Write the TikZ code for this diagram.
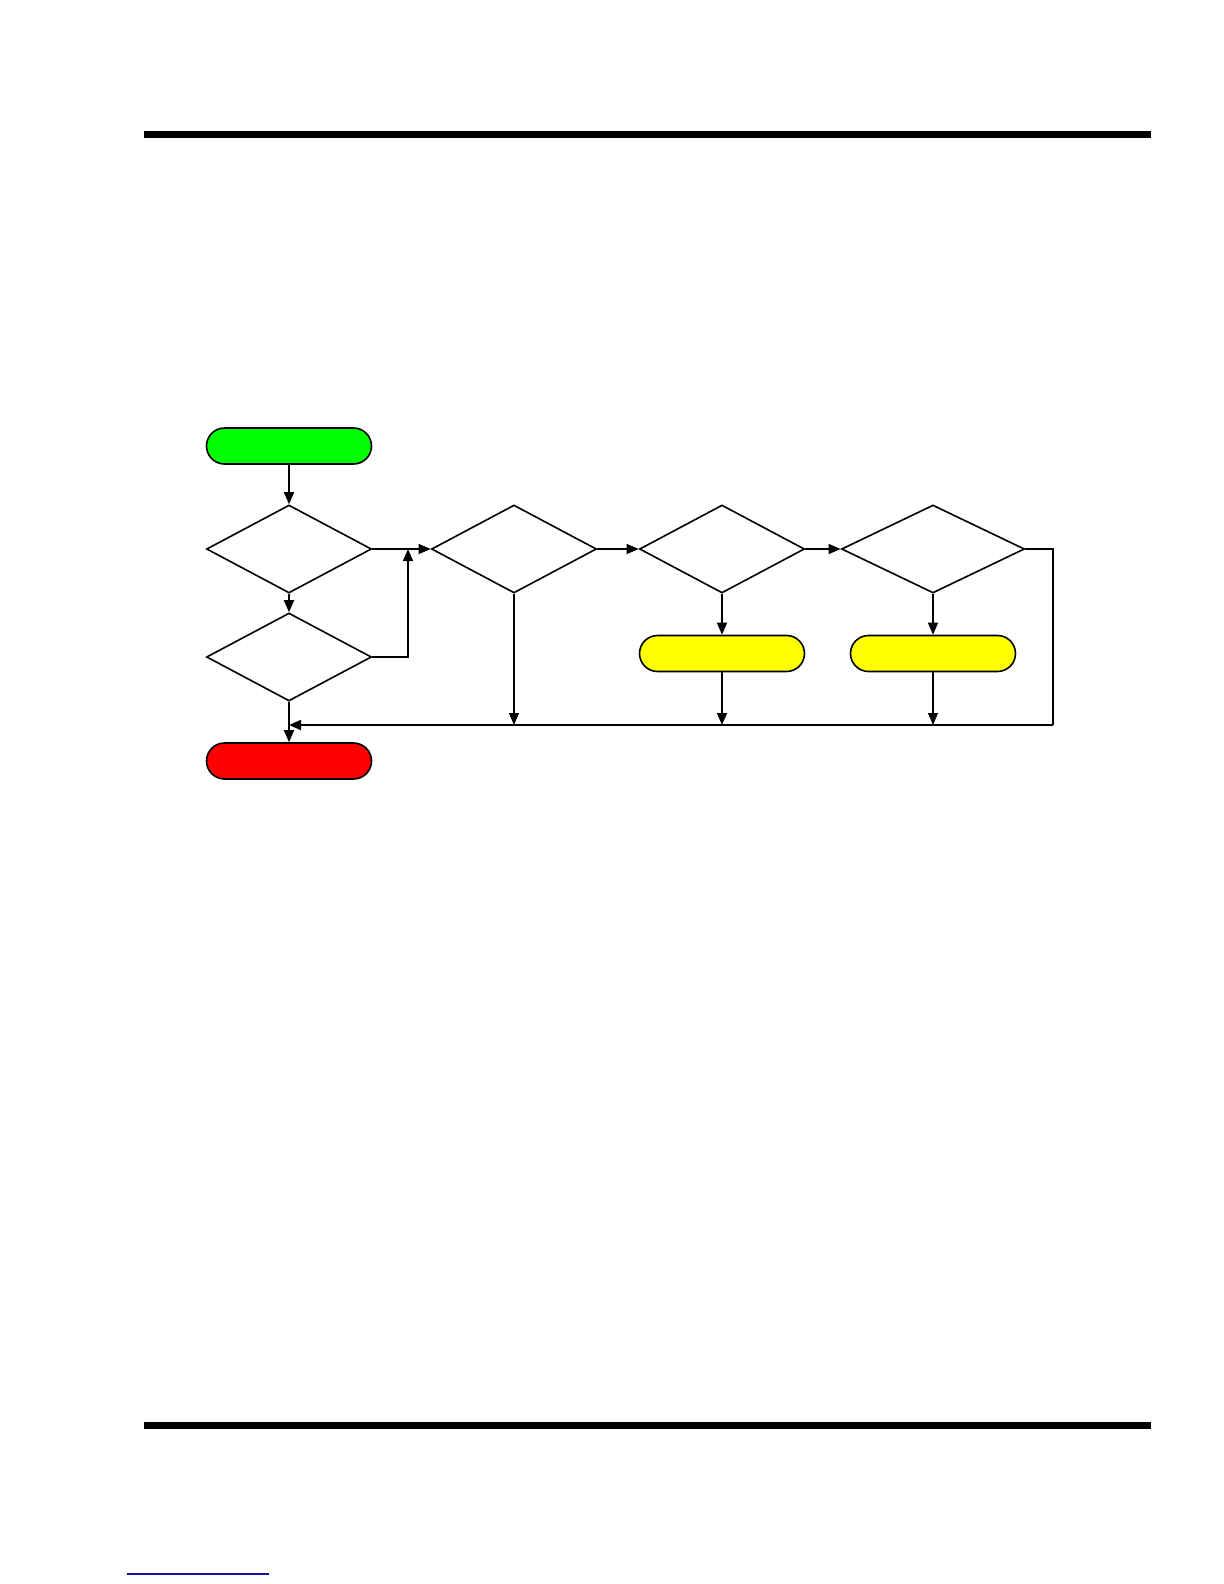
\documentclass[tikz,border=0pt]{standalone}
\usepackage{tikz}
\usetikzlibrary{arrows.meta,positioning,calc,shapes.geometric,shapes.misc}
\definecolor{startgreen}{HTML}{00FF00}
\definecolor{stopred}{HTML}{FF0000}
\definecolor{procyellow}{HTML}{FFFF00}
\definecolor{linkblue}{HTML}{1010A0}

\tikzset{
  term/.style={rounded rectangle, draw=black, line width=0.8pt, minimum width=82.5pt,
               minimum height=18pt, inner sep=0pt},
  decide/.style={diamond, draw=black, line width=0.8pt, minimum width=82.5pt,
                 minimum height=44pt, inner sep=0pt},
  flow/.style={black, line width=0.9pt, -{Triangle[length=6pt, width=5pt]}},
  thinflow/.style={black, line width=0.6pt, -{Triangle[length=6pt, width=5pt]}},
  plain/.style={black, line width=0.6pt},
}

\begin{document}
\begin{tikzpicture}[x=0.5pt, y=-0.5pt]
  \useasboundingbox (0,0) rectangle (1224,1584);
  % page rules
  \fill[black] (144,131) rectangle (1151,138);
  \fill[black] (144,1422) rectangle (1151,1429);
  \draw[linkblue, line width=0.8pt] (127,1574) -- (269,1574);
  % start / end
  \node[term, fill=startgreen] (start) at (289,446) {};
  \node[term, fill=stopred]    (stop)  at (289,761) {};
  % decisions
  \node[decide] (dec1) at (289,549) {};
  \node[decide] (dec2) at (514,549) {};
  \node[decide] (dec3) at (289,657) {};
  \node[decide] (dec4) at (722,549) {};
  \node[decide, minimum width=91.5pt] (dec5) at (933,549) {};
  % actions
  \node[term, fill=procyellow] (act1) at (722,653.5) {};
  \node[term, fill=procyellow] (act2) at (933,653.5) {};
  % helper points
  \coordinate (join) at (408,549);
  \coordinate (bus)  at (289,725);
  \coordinate (edge) at (1053,725);
  % connectors
  \draw[flow] (start) -- (dec1);
  \draw[flow] (dec1) -- (dec3);
  \draw[thinflow] (dec1.east) -- (dec2.west);
  \draw[thinflow] (dec3.east) -| (join);
  \draw[thinflow] (dec2.east) -- (dec4.west);
  \draw[thinflow] (dec4.east) -- (dec5.west);
  \draw[flow] (dec4) -- (act1);
  \draw[thinflow] (dec5) -- (act2);
  \draw[flow] (dec3) -- (stop);
  \draw[plain] (dec5.east) -| (edge);
  \draw[flow] (edge) -- (bus);
  \draw[thinflow] (dec2.south) -- (dec2.south |- bus);
  \draw[flow] (act1.south) -- (act1.south |- bus);
  \draw[thinflow] (act2.south) -- (act2.south |- bus);
\end{tikzpicture}
\end{document}
